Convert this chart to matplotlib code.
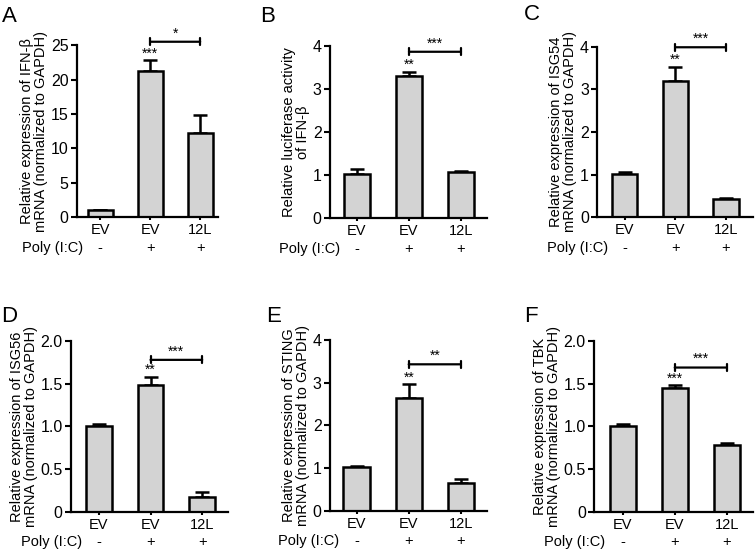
import numpy as np
import matplotlib
matplotlib.use('Agg')
import matplotlib.pyplot as plt
from matplotlib.ticker import FixedLocator, FixedFormatter

plt.rcParams['font.family'] = ['Liberation Sans', 'DejaVu Sans']

# data
groups = ['EV', 'EV', '12L']
poly = ['-', '+', '+']

ifnb_mean = [1.05, 21.3, 12.3]
ifnb_err = [0.0, 1.5, 2.5]
luc_mean = [1.03, 3.30, 1.08]
luc_err = [0.10, 0.09, 0.02]
isg54_mean = [1.02, 3.19, 0.43]
isg54_err = [0.03, 0.33, 0.02]
isg56_mean = [1.005, 1.48, 0.18]
isg56_err = [0.02, 0.10, 0.05]
sting_mean = [1.02, 2.63, 0.64]
sting_err = [0.03, 0.33, 0.10]
tbk_mean = [1.005, 1.45, 0.78]
tbk_err = [0.02, 0.03, 0.03]

letters = ['A', 'B', 'C', 'D', 'E', 'F']
ylabels = ['Relative expression of IFN-\u03b2\nmRNA (normalized to GAPDH)',
           'Relative luciferase activity\nof IFN-\u03b2',
           'Relative expression of ISG54\nmRNA (normalized to GAPDH)',
           'Relative expression of ISG56\nmRNA (normalized to GAPDH)',
           'Relative expression of STING\nmRNA (normalized to GAPDH)',
           'Relative expression of TBK\nmRNA (normalized to GAPDH)']
star_bar = ['***', '**', '**', '**', '**', '***']
star_pair = ['*', '***', '***', '***', '**', '***']
pair_y = [25.5, 3.86, 3.99, 1.78, 3.43, 1.69]
yticks_all = [[0, 5, 10, 15, 20, 25], [0, 1, 2, 3, 4], [0, 1, 2, 3, 4],
              [0, 0.5, 1.0, 1.5, 2.0], [0, 1, 2, 3, 4], [0, 0.5, 1.0, 1.5, 2.0]]
ytick_labels = [['0', '5', '10', '15', '20', '25'], ['0', '1', '2', '3', '4'],
                ['0', '1', '2', '3', '4'], ['0', '0.5', '1.0', '1.5', '2.0'],
                ['0', '1', '2', '3', '4'], ['0', '0.5', '1.0', '1.5', '2.0']]
means = [ifnb_mean, luc_mean, isg54_mean, isg56_mean, sting_mean, tbk_mean]
errs = [ifnb_err, luc_err, isg54_err, isg56_err, sting_err, tbk_err]

# axes boxes in figure fraction (left, bottom, width, height)
boxes = [(0.102, 0.606, 0.187, 0.312),
         (0.437, 0.604, 0.208, 0.313),
         (0.791, 0.606, 0.206, 0.309),
         (0.094, 0.071, 0.208, 0.310),
         (0.437, 0.073, 0.208, 0.310),
         (0.787, 0.071, 0.210, 0.310)]
xlims = [(-0.46, 2.36), (-0.52, 2.5), (-0.54, 2.53), (-0.54, 2.5), (-0.51, 2.5), (-0.55, 2.5)]
letter_pos = [(9, 17), (268, 17), (532, 15), (9, 316), (274, 317), (531, 316)]

W, H = 755, 551
fig = plt.figure(figsize=(W / 100, H / 100), dpi=100)

x = np.arange(len(groups))
for i in range(6):
    ax = fig.add_axes(boxes[i])
    m = means[i]
    e = errs[i]
    ax.bar(x, m, width=0.5, color='#d3d3d3', edgecolor='black', linewidth=1.8, zorder=2)
    ax.errorbar(x, m, yerr=[np.zeros(3), e], fmt='none', ecolor='black',
                elinewidth=1.8, capsize=5, capthick=1.8, zorder=1)
    ax.set_xlim(*xlims[i])
    ax.set_ylim(0, yticks_all[i][-1])
    ax.yaxis.set_major_locator(FixedLocator(yticks_all[i]))
    ax.yaxis.set_major_formatter(FixedFormatter(ytick_labels[i]))
    ax.set_xticks(x)
    ax.set_xticklabels(groups)
    ax.tick_params(axis='x', direction='out', length=2.5, width=1.5, pad=2, labelsize=10.5)
    ax.tick_params(axis='y', direction='out', length=4, width=1.5, pad=2, labelsize=11.5)
    for s in ['top', 'right']:
        ax.spines[s].set_visible(False)
    for s in ['left', 'bottom']:
        ax.spines[s].set_linewidth(1.6)
    ax.set_ylabel(ylabels[i], fontsize=10.5, labelpad=2, linespacing=1.0)

    # Poly (I:C) row
    ax.annotate('Poly (I:C)', xy=(-0.33, 0), xycoords=('data', 'axes fraction'),
                xytext=(0, -22), textcoords='offset points', ha='right', va='center',
                fontsize=10.5, annotation_clip=False)
    for j in range(3):
        ax.annotate(poly[j], xy=(x[j], 0), xycoords=('data', 'axes fraction'),
                    xytext=(0, -22), textcoords='offset points', ha='center', va='center',
                    fontsize=10.5, annotation_clip=False)

    # stars over EV + poly bar
    ax.annotate(star_bar[i], xy=(1, m[1] + e[1]), xytext=(0, 0), textcoords='offset points',
                ha='center', va='bottom', fontsize=10, annotation_clip=False)

    # comparison bracket
    ax.annotate('', xy=(1, pair_y[i]), xytext=(2, pair_y[i]),
                arrowprops=dict(arrowstyle='|-|, widthA=0.25, widthB=0.25', lw=1.6,
                                shrinkA=0, shrinkB=0, color='black'),
                annotation_clip=False)
    ax.annotate(star_pair[i], xy=(1.5, pair_y[i]), xytext=(0, 1), textcoords='offset points',
                ha='center', va='bottom', fontsize=10, annotation_clip=False)

    lx, ly = letter_pos[i]
    fig.text(lx / W, 1 - ly / H, letters[i], fontsize=16, ha='center', va='center')

fig.savefig('out.png', dpi=100)
